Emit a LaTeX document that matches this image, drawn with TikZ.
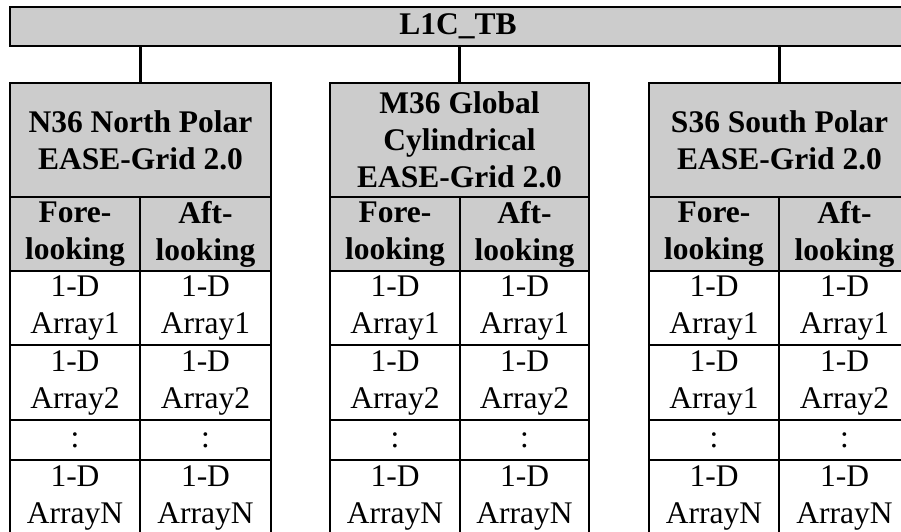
\documentclass[tikz,border=0pt]{standalone}
\usepackage{fontspec}
\setmainfont{Liberation Serif}
\definecolor{hdrgray}{RGB}{204,204,204}
\newcommand\cellfont{\fontsize{31.5}{37}\selectfont}
\begin{document}
\begin{tikzpicture}[x=1pt,y=-1pt,
  every node/.style={inner sep=0pt, outer sep=0pt, align=center, font=\cellfont},
  box/.style={draw, line width=2.7pt, anchor=north west},
  datacell/.style={box, fill=white},
  hdrcell/.style={box, fill=hdrgray, font=\bfseries\cellfont},
  conn/.style={draw, line width=2.7pt}]
\useasboundingbox (0,0) rectangle (901,531);
\clip (0,0) rectangle (901,531);
\node[hdrcell, minimum width=896, minimum height=39] (bar) at (10,7) {L1C\_TB};
\foreach \g/\X/\W/\title/\fa in {
  n/10/261/{N36 North Polar\\EASE-Grid 2.0}/2,
  m/330/259/{M36 Global\\Cylindrical\\EASE-Grid 2.0}/2,
  s/649/261/{S36 South Polar\\EASE-Grid 2.0}/1}{
  \pgfmathsetmacro\Xr{\X+130}
  \pgfmathsetmacro\Wr{\W-130}
  \node[hdrcell, minimum width=\W, minimum height=114] (\g-head) at (\X,83) {\title};
  \node[hdrcell, minimum width=130, minimum height=74] (\g-fore) at (\X,197) {Fore-\\looking};
  \node[hdrcell, minimum width=\Wr, minimum height=74] (\g-aft) at (\Xr,197) {Aft-\\looking};
  \node[datacell, minimum width=130, minimum height=74] (\g-f1) at (\X,271) {1-D\\Array1};
  \node[datacell, minimum width=\Wr, minimum height=74] (\g-a1) at (\Xr,271) {1-D\\Array1};
  \node[datacell, minimum width=130, minimum height=75] (\g-f2) at (\X,345) {1-D\\Array\fa};
  \node[datacell, minimum width=\Wr, minimum height=75] (\g-a2) at (\Xr,345) {1-D\\Array2};
  \node[datacell, minimum width=130, minimum height=40] (\g-f3) at (\X,420) {:};
  \node[datacell, minimum width=\Wr, minimum height=40] (\g-a3) at (\Xr,420) {:};
  \node[datacell, minimum width=130, minimum height=76] (\g-f4) at (\X,460) {1-D\\ArrayN};
  \node[datacell, minimum width=\Wr, minimum height=76] (\g-a4) at (\Xr,460) {1-D\\ArrayN};
  \draw[conn] (bar.south -| \g-head.north) -- (\g-head.north);
}
\end{tikzpicture}
\end{document}
